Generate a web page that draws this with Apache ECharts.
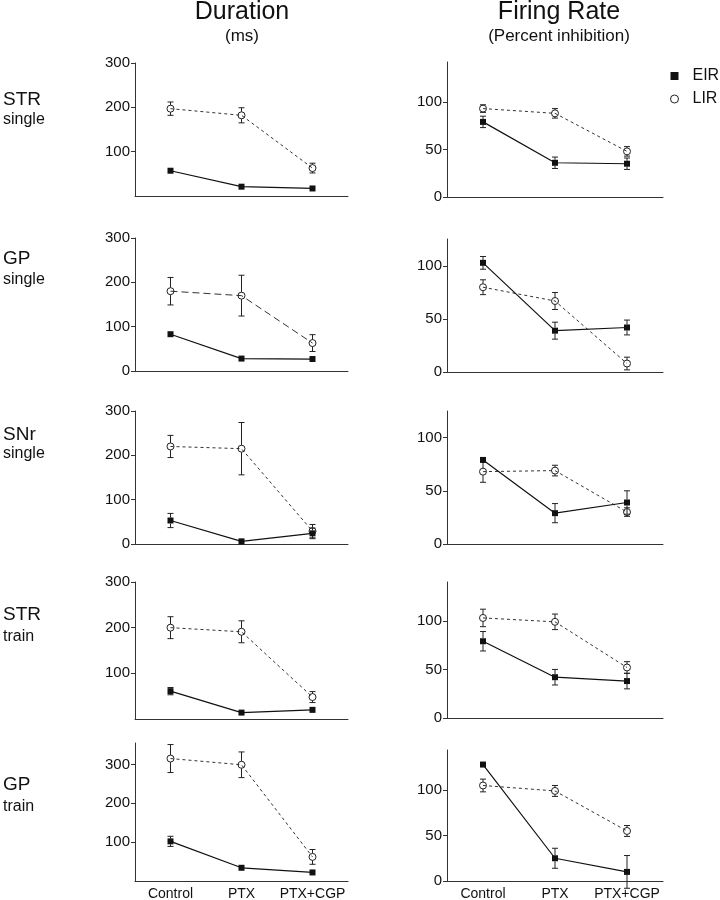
<!DOCTYPE html>
<html><head><meta charset="utf-8">
<script src="https://cdn.jsdelivr.net/npm/echarts@6/dist/echarts.min.js"></script>
<style>html,body{margin:0;padding:0;background:#fff}#c{width:720px;height:900px}</style>
</head><body><div id="c"></div>
<script>
// ---- data ----
const categories = ['Control', 'PTX', 'PTX+CGP'];
const regions = ['STR', 'GP', 'SNr', 'STR', 'GP'];
const stimuli = ['single', 'single', 'single', 'train', 'train'];
const columnTitles = ['Duration', 'Firing Rate'];
const columnUnits = ['(ms)', '(Percent inhibition)'];
const seriesNames = ['EIR', 'LIR'];

const durationEIR    = [[57, 21, 17], [83, 28, 27], [53, 6, 24], [61, 14, 20], [102, 34, 22]];
const durationEIRErr = [[3, 2, 2], [6, 2, 2], [16, 3, 12], [8, 3, 3], [13, 4, 3]];
const durationLIR    = [[197, 182, 63], [180, 170, 63], [220, 215, 29], [200, 191, 48], [315, 299, 62]];
const durationLIRErr = [[15, 17, 11], [31, 46, 19], [25, 59, 15], [24, 24, 12], [36, 33, 19]];
const rateEIR        = [[79, 36, 35], [103, 39, 42], [79, 29, 39], [79, 42, 38], [128, 25, 10]];
const rateEIRErr     = [[6, 6, 6], [6, 8, 7], [2, 9, 11], [10, 8, 8], [3, 11, 18]];
const rateLIR        = [[93, 88, 48], [80, 67, 8], [68, 69, 30], [103, 99, 52], [105, 99, 55]];
const rateLIRErr     = [[4, 5, 5], [7, 8, 6], [10, 5, 4], [9, 8, 6], [7, 6, 6]];

const durationTicks = [[100, 200, 300], [0, 100, 200, 300], [0, 100, 200, 300], [100, 200, 300], [100, 200, 300]];
const rateTicks     = [[0, 50, 100], [0, 50, 100], [0, 50, 100], [0, 50, 100], [0, 50, 100]];

// ---- layout ----
const FONT = '"Liberation Sans", Arial, Helvetica, sans-serif';
const colLeft = [135, 447];
const colWidth = [213, 216];
const rowTop = [[63, 62], [238, 239], [411, 411], [582, 582], [743, 750]];
const rowBottom = [[196, 197], [371, 372], [544, 544], [719, 718], [881, 881]];
const yMax = [[300, 142], [300, 125.5], [300, 125], [300, 140], [355, 144]];
const lirDash = [[[3, 3], [3, 3]], [[7, 4], [3, 3]], [[3, 3], [3, 3]], [[3, 3], [3, 3]], [[3, 3], [3, 3]]];

const grids = [], xAxes = [], yAxes = [], series = [];

function errorBars(idx, means, errs, gap) {
  return {
    type: 'custom', xAxisIndex: idx, yAxisIndex: idx, z: 1, silent: true, clip: false,
    data: means.map((m, i) => [i, m - errs[i], m + errs[i], m]),
    encode: { x: 0, y: [1, 2] },
    renderItem: function (params, api) {
      const xi = api.value(0);
      const lo = api.coord([xi, api.value(1)]);
      const hi = api.coord([xi, api.value(2)]);
      const mid = api.coord([xi, api.value(3)]);
      const st = { stroke: '#222', lineWidth: 1 };
      const cap = 3;
      const ch = [];
      if (mid[1] - gap > hi[1]) {
        ch.push({ type: 'line', shape: { x1: hi[0], y1: hi[1], x2: hi[0], y2: mid[1] - gap }, style: st });
        ch.push({ type: 'line', shape: { x1: hi[0] - cap, y1: hi[1], x2: hi[0] + cap, y2: hi[1] }, style: st });
      }
      if (mid[1] + gap < lo[1]) {
        ch.push({ type: 'line', shape: { x1: lo[0], y1: mid[1] + gap, x2: lo[0], y2: lo[1] }, style: st });
        ch.push({ type: 'line', shape: { x1: lo[0] - cap, y1: lo[1], x2: lo[0] + cap, y2: lo[1] }, style: st });
      }
      return { type: 'group', children: ch };
    }
  };
}

for (let r = 0; r < 5; r++) {
  for (let c = 0; c < 2; c++) {
    const idx = r * 2 + c;
    grids.push({ left: colLeft[c], top: rowTop[r][c], width: colWidth[c], height: rowBottom[r][c] - rowTop[r][c], outerBoundsMode: 'none', containLabel: false });
    xAxes.push({
      type: 'category', gridIndex: idx, data: categories, boundaryGap: true,
      axisLine: { lineStyle: { color: '#333', width: 1 } },
      axisTick: { alignWithLabel: true, interval: 0, length: 5, lineStyle: { color: '#333' } },
      axisLabel: { show: r === 4, interval: 0, fontSize: 14, color: '#111', margin: 6, fontFamily: FONT }
    });
    const ticks = c === 0 ? durationTicks[r] : rateTicks[r];
    yAxes.push({
      type: 'value', gridIndex: idx, min: 0, max: yMax[r][c],
      splitLine: { show: false },
      axisLine: { show: true, lineStyle: { color: '#333', width: 1 } },
      axisTick: { show: true, length: 4, customValues: ticks, lineStyle: { color: '#333' } },
      axisLabel: { customValues: ticks, fontSize: 15, color: '#111', margin: 5, fontFamily: FONT }
    });
    const eMean = c === 0 ? durationEIR[r] : rateEIR[r];
    const eErr = c === 0 ? durationEIRErr[r] : rateEIRErr[r];
    const lMean = c === 0 ? durationLIR[r] : rateLIR[r];
    const lErr = c === 0 ? durationLIRErr[r] : rateLIRErr[r];
    series.push(errorBars(idx, lMean, lErr, 3.5));
    series.push(errorBars(idx, eMean, eErr, 3));
    series.push({
      name: seriesNames[1], type: 'line', xAxisIndex: idx, yAxisIndex: idx, z: 3,
      data: lMean, symbol: 'circle', symbolSize: 7, silent: true,
      itemStyle: { color: 'rgba(255,255,255,0)', borderColor: '#222', borderWidth: 1 },
      lineStyle: { color: '#333', width: 1, type: lirDash[r][c] },
      emphasis: { disabled: true }
    });
    series.push({
      name: seriesNames[0], type: 'line', xAxisIndex: idx, yAxisIndex: idx, z: 4,
      data: eMean, symbol: 'rect', symbolSize: 6, silent: true,
      itemStyle: { color: '#111' },
      lineStyle: { color: '#111', width: 1.2, type: 'solid' },
      emphasis: { disabled: true }
    });
  }
}

const graphics = [];
const titleX = [242, 559];
for (let c = 0; c < 2; c++) {
  graphics.push({ type: 'text', x: titleX[c], y: 12, style: { text: columnTitles[c], font: '25px ' + FONT, fill: '#111', textAlign: 'center', textVerticalAlign: 'middle' } });
  graphics.push({ type: 'text', x: titleX[c], y: 36, style: { text: columnUnits[c], font: '17px ' + FONT, fill: '#111', textAlign: 'center', textVerticalAlign: 'middle' } });
}
const regionY = [99.5, 258.5, 435, 615, 785];
const stimY = [120, 280, 454, 637, 807];
for (let r = 0; r < 5; r++) {
  graphics.push({ type: 'text', x: 3, y: regionY[r], style: { text: regions[r], font: '19px ' + FONT, fill: '#111', textAlign: 'left', textVerticalAlign: 'middle' } });
  graphics.push({ type: 'text', x: 3, y: stimY[r], style: { text: stimuli[r], font: '16px ' + FONT, fill: '#111', textAlign: 'left', textVerticalAlign: 'middle' } });
}

const chart = echarts.init(document.getElementById('c'), null, { renderer: 'canvas' });
chart.setOption({
  animation: false,
  backgroundColor: '#fff',
  grid: grids, xAxis: xAxes, yAxis: yAxes, series: series,
  graphic: graphics,
  legend: {
    orient: 'vertical', left: 670, top: 68, padding: 0, itemGap: 7,
    itemWidth: 8, itemHeight: 8,
    selectedMode: false,
    textStyle: { fontSize: 16, color: '#111', fontFamily: FONT, padding: [0, 0, 0, 9] },
    data: [
      { name: 'EIR', icon: 'rect', itemStyle: { color: '#111', borderWidth: 0 } },
      { name: 'LIR', icon: 'circle', itemStyle: { color: 'rgba(255,255,255,0)', borderColor: '#222', borderWidth: 1 } }
    ]
  }
});
</script>
</body></html>
